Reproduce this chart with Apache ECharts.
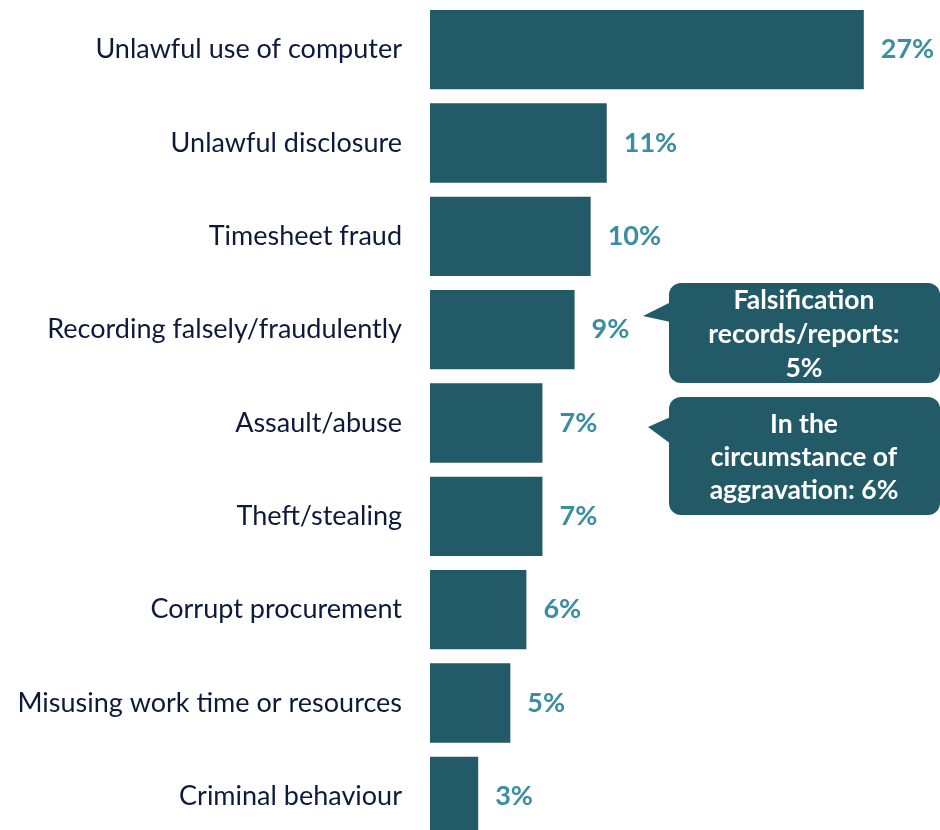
<!DOCTYPE html>
<html>
<head>
<meta charset="utf-8">
<style>
html,body{margin:0;padding:0;background:#fff;}
#chart{width:940px;height:830px;}
</style>
<script src="https://cdn.jsdelivr.net/npm/echarts@6/dist/echarts.min.js"></script>
</head>
<body>
<div id="chart"></div>
<script>
var categories = [
  "Unlawful use of computer",
  "Unlawful disclosure",
  "Timesheet fraud",
  "Recording falsely/fraudulently",
  "Assault/abuse",
  "Theft/stealing",
  "Corrupt procurement",
  "Misusing work time or resources",
  "Criminal behaviour"
];
var values = [27, 11, 10, 9, 7, 7, 6, 5, 3];
var callout1Lines = ["Falsification", "records/reports:", "5%"];
var callout2Lines = ["In the", "circumstance of", "aggravation: 6%"];

var FONT = "Lato";
var BAR = "#235A68";
var LABEL = "#3A8EA2";

var chart = echarts.init(document.getElementById('chart'));
chart.setOption({
  animation: false,
  grid: {left: 430, top: 3, width: 482, height: 840, containLabel: false, outerBoundsMode: 'none'},
  xAxis: {
    type: 'value', min: 0, max: 30, show: false
  },
  yAxis: {
    type: 'category', data: categories, inverse: true,
    axisLine: {show: false}, axisTick: {show: false}, splitLine: {show: false},
    axisLabel: {margin: 28, color: '#0E1A3A', fontSize: 27, fontFamily: FONT}
  },
  series: [{
    type: 'bar', data: values, barCategoryGap: '15%',
    itemStyle: {color: BAR},
    label: {
      show: true, position: 'right', distance: 17,
      formatter: '{c}%', color: LABEL, fontSize: 27, fontWeight: 'bold', fontFamily: FONT
    }
  }],
  graphic: [
    {type: 'group', children: [
      {type: 'rect', shape: {x: 669, y: 283, width: 271, height: 100, r: 12}, style: {fill: BAR}},
      {type: 'polygon', shape: {points: [[675, 300], [643, 316], [675, 323]]}, style: {fill: BAR}},
      {type: 'text', x: 804, y: 334, style: {text: callout1Lines.join('\n'), fill: '#fff', font: 'bold 26.5px Lato', align: 'center', verticalAlign: 'middle', lineHeight: 34}}
    ]},
    {type: 'group', children: [
      {type: 'rect', shape: {x: 669, y: 397, width: 271, height: 118, r: 12}, style: {fill: BAR}},
      {type: 'polygon', shape: {points: [[675, 415], [648, 427], [675, 447]]}, style: {fill: BAR}},
      {type: 'text', x: 804, y: 457, style: {text: callout2Lines.join('\n'), fill: '#fff', font: 'bold 26.5px Lato', align: 'center', verticalAlign: 'middle', lineHeight: 33}}
    ]}
  ]
});
</script>
</body>
</html>
